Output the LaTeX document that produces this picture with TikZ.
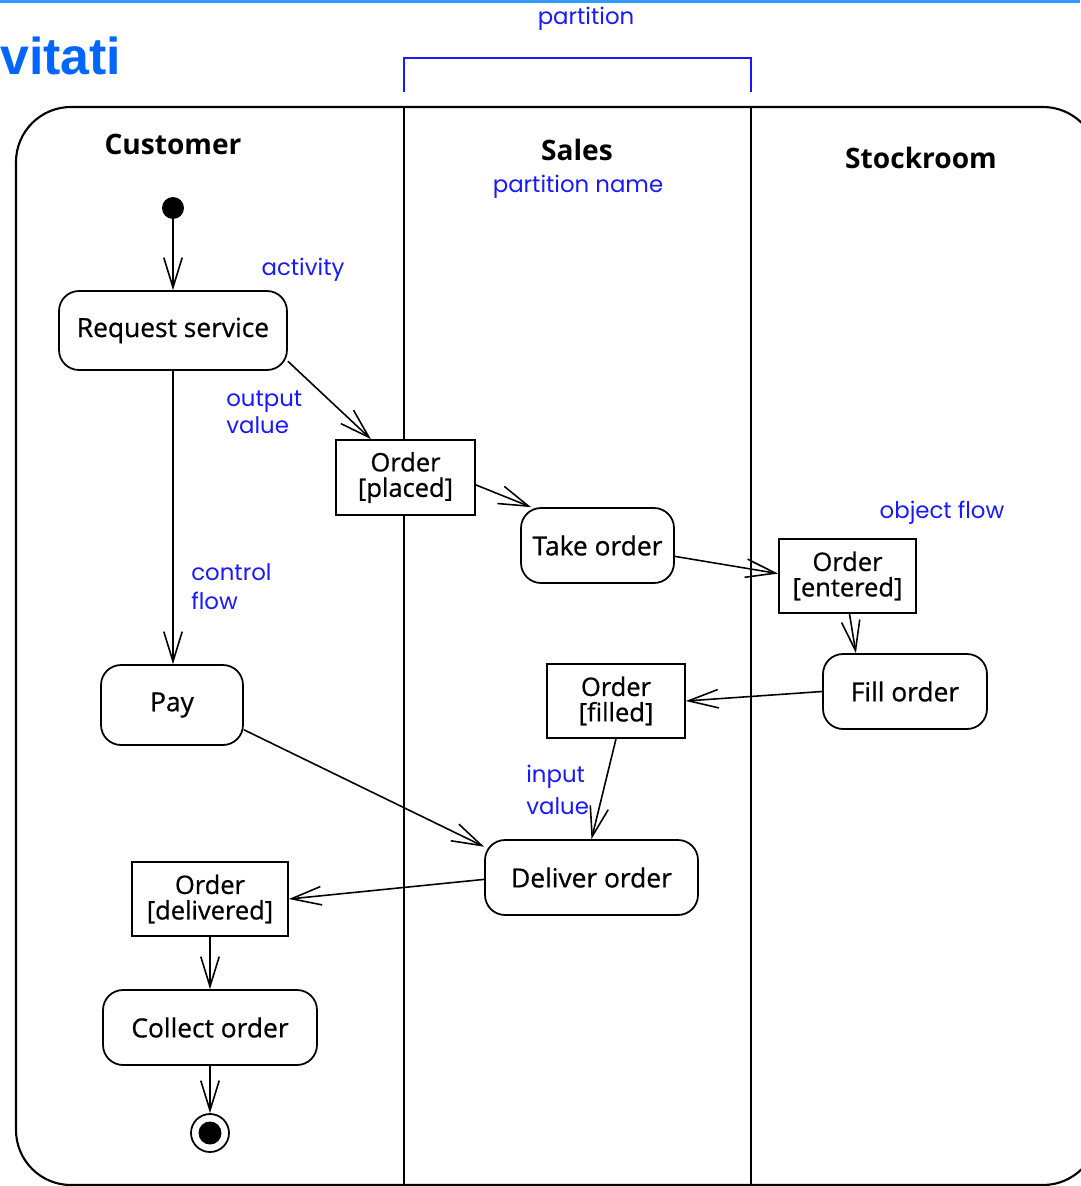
\documentclass[tikz,border=0pt]{standalone}
\usepackage{fontspec}
\setmainfont{Open Sans}
\newfontfamily\nodefont[FakeBold=0.7]{Open Sans}
\newfontfamily\labelfont{Poppins}
\newfontfamily\titlefont{Liberation Sans}
\usetikzlibrary{arrows.meta}
\definecolor{umlblue}{RGB}{25,25,255}
\definecolor{titleblue}{RGB}{0,102,255}
\definecolor{rulerblue}{RGB}{51,153,255}

\begin{document}
\begin{tikzpicture}[x=0.02cm,y=-0.02cm,
  action/.style={draw, fill=white, line width=1pt, rounded corners=0.4cm, inner sep=0pt,
    font=\nodefont\fontsize{15}{17}\selectfont, align=center},
  object/.style={draw, fill=white, line width=1pt, inner sep=0pt,
    font=\nodefont\fontsize{14.5}{14.5}\selectfont, align=center},
  lanehead/.style={inner sep=0pt, font=\bfseries\fontsize{16}{18}\selectfont},
  note/.style={text=umlblue, inner sep=0pt, font=\labelfont\fontsize{13}{14}\selectfont},
  flow/.style={line width=0.9pt, -{Straight Barb[length=17pt,width=10.5pt]}},
]
\useasboundingbox (0,0) rectangle (1080,1186);

% page header
\draw[rulerblue, line width=1.6pt] (0,1.5) -- (1080,1.5);
\node[anchor=base west, inner sep=0pt, text=titleblue,
      font=\titlefont\bfseries\fontsize{29.5}{31}\selectfont] (title) at (0,75) {vitati};

% partition bracket
\node[note] (partlbl) at (586,19) {partition};
\draw[umlblue, line width=1.1pt] (404,92) -- (404,58) -- (751,58) -- (751,92);

% activity frame and swimlanes
\draw[line width=1.2pt, rounded corners=1.1cm] (16,107) rectangle (1098,1185);
\draw[line width=1.1pt] (404,107) -- (404,1190);
\draw[line width=1.1pt] (751,107) -- (751,1190);

\node[lanehead] (customer) at (173,144) {Customer};
\node[lanehead] (sales) at (577,150) {Sales};
\node[lanehead] (stockroom) at (921,158) {Stockroom};

% initial and final nodes
\node[circle, fill, inner sep=0pt, minimum size=0.44cm] (init) at (173,208) {};
\node[circle, draw, line width=1pt, inner sep=0pt, minimum size=0.76cm] (final) at (210,1133) {};
\node[circle, fill, inner sep=0pt, minimum size=0.46cm] (finaldot) at (210,1133) {};

% actions
\node[action, minimum width=4.56cm, minimum height=1.58cm] (req) at (173,330.5) {Request service};
\node[action, minimum width=3.06cm, minimum height=1.5cm] (take) at (597.5,545.5) {Take order};
\node[action, minimum width=3.28cm, minimum height=1.5cm] (fill) at (905,691.5) {Fill order};
\node[action, minimum width=2.84cm, minimum height=1.6cm] (pay) at (172,705) {Pay};
\node[action, minimum width=4.26cm, minimum height=1.5cm] (deliver) at (591.5,877.5) {Deliver order};
\node[action, minimum width=4.28cm, minimum height=1.5cm] (collect) at (210,1027.5) {Collect order};

% object nodes
\node[object, minimum width=2.78cm, minimum height=1.5cm] (placed) at (405.5,477.5) {Order\\{}[placed]};
\node[object, minimum width=2.74cm, minimum height=1.48cm] (entered) at (847.5,576) {Order\\{}[entered]};
\node[object, minimum width=2.76cm, minimum height=1.48cm] (filled) at (616,701) {Order\\{}[filled]};
\node[object, minimum width=3.12cm, minimum height=1.48cm] (delivered) at (210,899) {Order\\{}[delivered]};

% flows
\draw[flow] (init.south) -- (req.north);
\draw[flow] (req.-15.4) -- (placed.132);
\draw[flow] (placed.-6) -- (take.150);
\draw[flow] (take.-8) -- (entered.178);
\draw[flow] (entered.-87) -- (fill.142);
\draw[flow] (fill.west) -- (filled.east);
\draw[flow] (filled.south) -- (deliver.north);
\draw[flow] (req.south) -- (req.south |- pay.north);
\draw[flow] (pay.-19.4) -- (deliver.164);
\draw[flow] (deliver.181) -- (delivered.east);
\draw[flow] (delivered.south) -- (collect.north);
\draw[flow] (collect.south) -- (final.north);

% annotations
\node[note] (partname) at (578,187) {partition name};
\node[note] (activity) at (303,270) {activity};
\node[note, anchor=west] (output1) at (226,402) {output};
\node[note, anchor=west] (output2) at (226,425) {value};
\node[note, anchor=west] (control1) at (191,572) {control};
\node[note, anchor=west] (control2) at (191,601) {flow};
\node[note] (objflow) at (942,513) {object flow};
\node[note, anchor=west] (input1) at (526,777) {input};
\node[note, anchor=west] (input2) at (526,806) {value};

\end{tikzpicture}
\end{document}
